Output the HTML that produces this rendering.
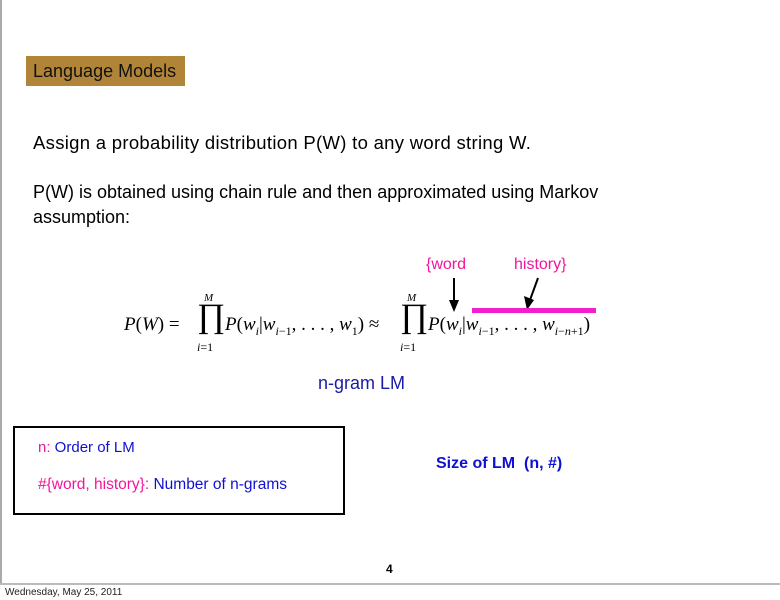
<!DOCTYPE html>
<html><head><meta charset="utf-8"><style>
body{margin:0;width:780px;height:600px;background:#fff;position:relative;overflow:hidden;font-family:"Liberation Sans",sans-serif}
.a{position:absolute;white-space:nowrap}
.s{font-family:"Liberation Sans",sans-serif}
.m{font-family:"Liberation Serif",serif;font-size:19px;color:#000}
i{font-style:italic}
sub{font-size:12px}
</style></head><body>
<div class="a" style="left:0;top:0;width:2px;height:585px;background:#aaa"></div>
<div class="a" style="left:0;top:583px;width:780px;height:2px;background:#bbb"></div>
<div class="a" style="left:26px;top:56px;width:159px;height:30px;background:#b08538"></div>
<div class="a s" style="left:33px;top:61px;font-size:18px;color:#111">Language Models</div>
<div class="a s" style="left:33px;top:132px;font-size:18.5px;color:#000;letter-spacing:0.3px">Assign a probability distribution P(W) to any word string W.</div>
<div class="a s" style="left:33px;top:180px;font-size:18px;color:#000;line-height:25px">P(W) is obtained using chain rule and then approximated using Markov<br>assumption:</div>
<div class="a s" style="left:426px;top:256px;font-size:16px;color:#f0169b">{word</div>
<div class="a s" style="left:514px;top:256px;font-size:16px;color:#f0169b">history}</div>
<svg class="a" style="left:0;top:0" width="780" height="600">
<line x1="454" y1="278" x2="454" y2="305" stroke="#000" stroke-width="2"/>
<polygon points="449,300 459,300 454,312" fill="#000"/>
<line x1="538" y1="278" x2="530" y2="300" stroke="#000" stroke-width="2"/>
<polygon points="524,296 534,300 527,310" fill="#000"/>
<rect x="472" y="308" width="124" height="5" fill="#f020d0"/>
<rect x="14" y="427" width="330" height="87" fill="none" stroke="#000" stroke-width="2"/>
</svg>
<div class="a m" style="left:124px;top:314px"><i>P</i>(<i>W</i>) =</div>
<div class="a m" style="left:197px;top:298px;font-size:34px">∏</div>
<div class="a m" style="left:204px;top:292px;font-size:11px"><i>M</i></div>
<div class="a m" style="left:197px;top:340px;font-size:12px"><i>i</i>=1</div>
<div class="a m" style="left:225px;top:314px"><i>P</i>(<i>w<sub>i</sub></i>|<i>w</i><sub><i>i</i>−1</sub>, . . . , <i>w</i><sub>1</sub>) ≈</div>
<div class="a m" style="left:400px;top:298px;font-size:34px">∏</div>
<div class="a m" style="left:407px;top:292px;font-size:11px"><i>M</i></div>
<div class="a m" style="left:400px;top:340px;font-size:12px"><i>i</i>=1</div>
<div class="a m" style="left:428px;top:314px"><i>P</i>(<i>w<sub>i</sub></i>|<i>w</i><sub><i>i</i>−1</sub>, . . . , <i>w</i><sub><i>i</i>−<i>n</i>+1</sub>)</div>
<div class="a s" style="left:318px;top:373px;font-size:18px;color:#1a1aa8">n-gram LM</div>
<div class="a s" style="left:38px;top:439px;font-size:15px;color:#1010d0"><span style="color:#f0169b">n:</span> Order of LM</div>
<div class="a s" style="left:38px;top:476px;font-size:15.5px;color:#1010d0"><span style="color:#f0169b">#{word, history}:</span> Number of n-grams</div>
<div class="a s" style="left:436px;top:455px;font-size:16px;font-weight:bold;color:#1010d0">Size of LM&nbsp; (n, #)</div>
<div class="a s" style="left:386px;top:562px;font-size:12px;font-weight:bold">4</div>
<div class="a s" style="left:5px;top:587px;font-size:10px;color:#222">Wednesday, May 25, 2011</div>
</body></html>
